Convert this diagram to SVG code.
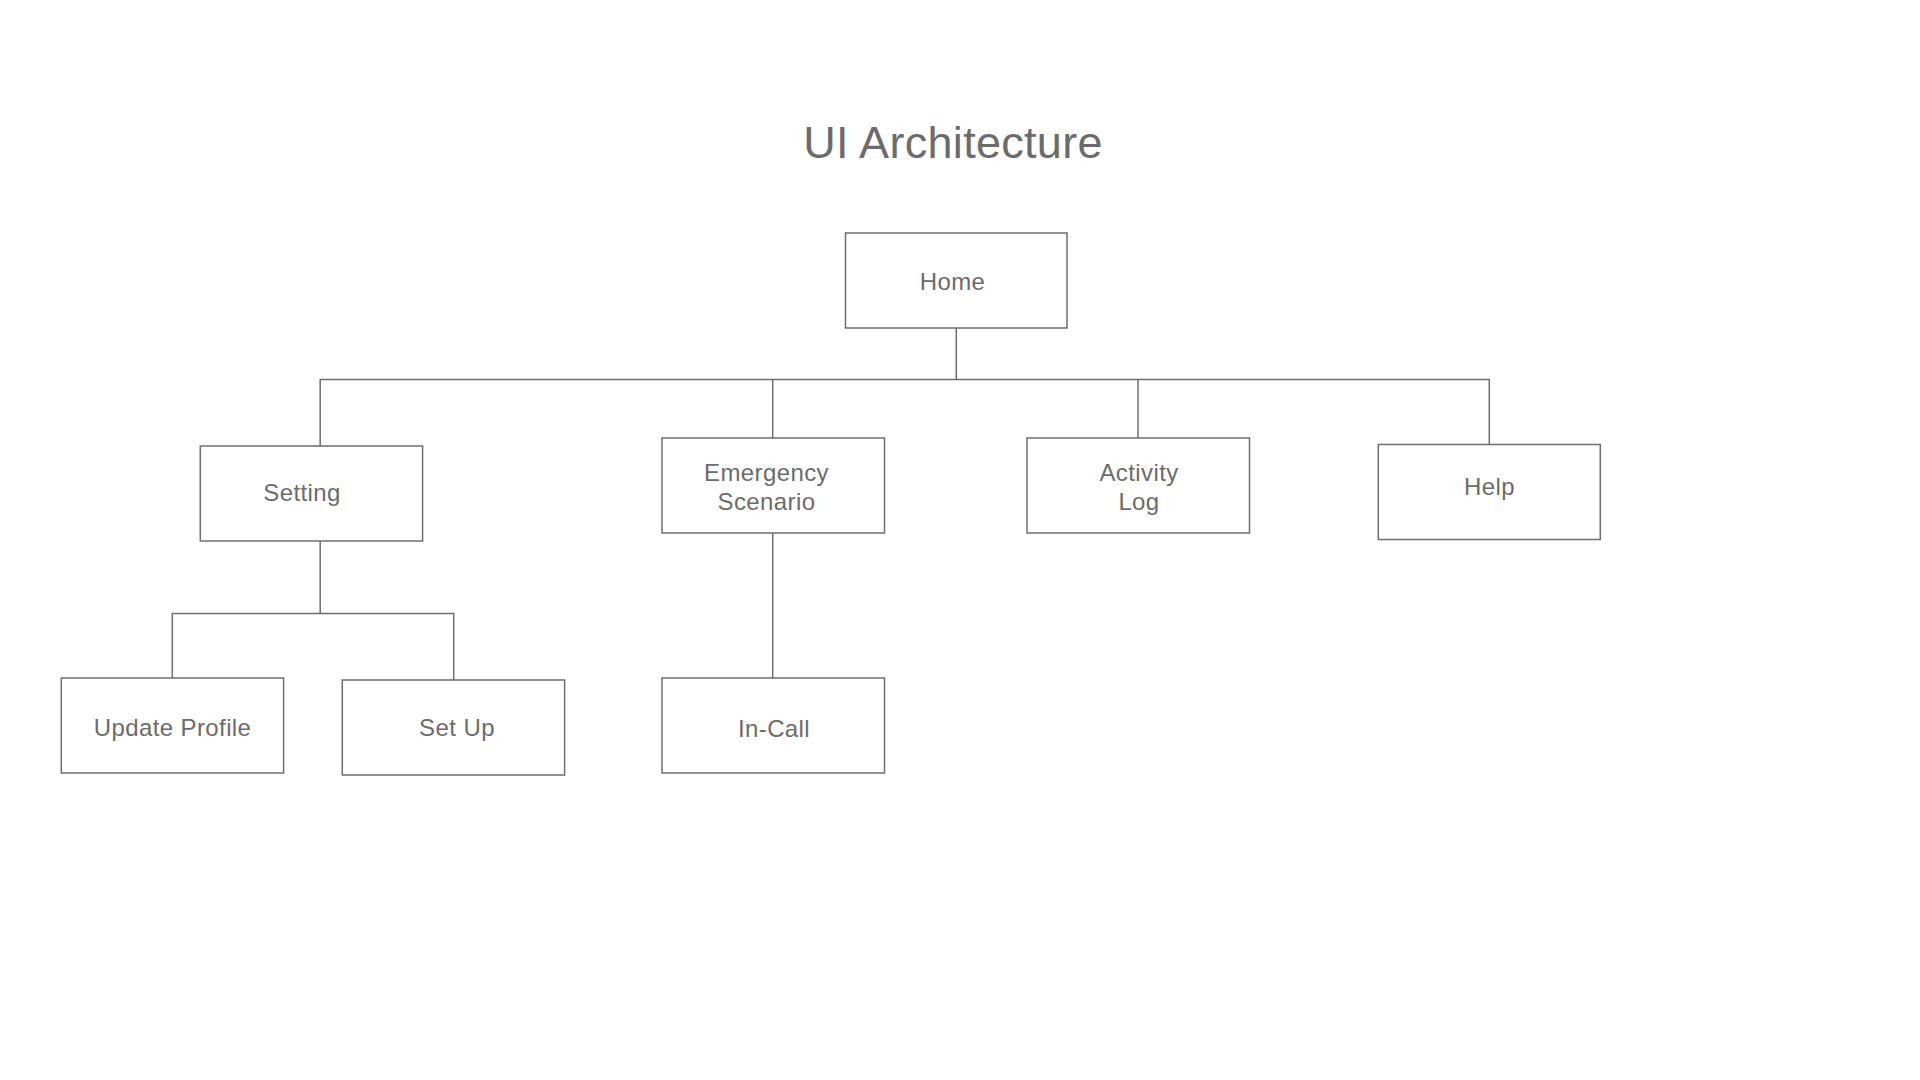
<svg xmlns="http://www.w3.org/2000/svg" width="1920" height="1080" viewBox="0 0 1920 1080">
<style>
.box{fill:#ffffff;stroke:#6e6e6e;stroke-width:1.5}
.lbl{font-family:"Liberation Sans",Helvetica,Arial,sans-serif;font-size:24px;letter-spacing:0.4px;fill:#6b6b6b;text-anchor:middle}
.title{font-family:"Liberation Sans",Helvetica,Arial,sans-serif;font-size:45px;letter-spacing:0.3px;fill:#6b6b6b;text-anchor:middle}
.conn{fill:none;stroke:#6e6e6e;stroke-width:1.5}
</style>
<rect width="1920" height="1080" fill="#ffffff"/>
<text class="title" x="953" y="158">UI Architecture</text>
<g id="connectors">
<path class="conn" d="M956.3 328 V379.5"/>
<path class="conn" d="M320.2 446 V379.5 H1489.3 V444.5"/>
<path class="conn" d="M772.7 379.5 V438"/>
<path class="conn" d="M1138 379.5 V438"/>
<path class="conn" d="M320.2 541 V613.5"/>
<path class="conn" d="M172.3 678 V613.5 H453.7 V680"/>
<path class="conn" d="M772.7 533 V678"/>
</g>
<g id="home"><rect class="box" x="845.5" y="233" width="221.5" height="95"/><text class="lbl" x="952.5" y="289.5">Home</text></g>
<g id="setting"><rect class="box" x="200.3" y="446" width="222.3" height="95"/><text class="lbl" x="302" y="501">Setting</text></g>
<g id="emergency"><rect class="box" x="662" y="438" width="222.5" height="95"/><text class="lbl" x="766.5" y="481">Emergency</text><text class="lbl" x="766.5" y="510">Scenario</text></g>
<g id="activity"><rect class="box" x="1027" y="438" width="222.5" height="95"/><text class="lbl" x="1139" y="481">Activity</text><text class="lbl" x="1139" y="510">Log</text></g>
<g id="help"><rect class="box" x="1378.3" y="444.5" width="222" height="95"/><text class="lbl" x="1489.5" y="495">Help</text></g>
<g id="update-profile"><rect class="box" x="61.3" y="678" width="222.3" height="95"/><text class="lbl" x="172.5" y="735.5">Update Profile</text></g>
<g id="set-up"><rect class="box" x="342.3" y="680" width="222.3" height="95"/><text class="lbl" x="457" y="736">Set Up</text></g>
<g id="in-call"><rect class="box" x="662" y="678" width="222.5" height="95"/><text class="lbl" x="774" y="737">In-Call</text></g>
</svg>
